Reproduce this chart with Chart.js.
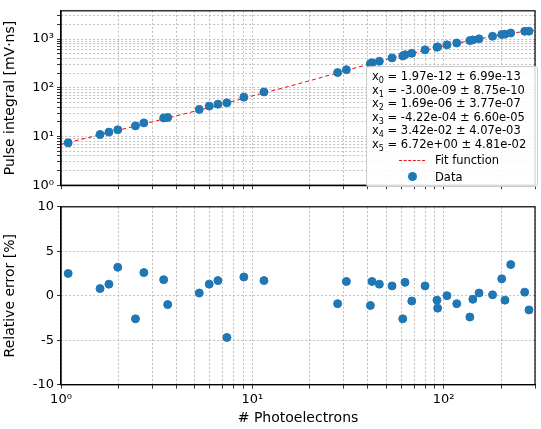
<!DOCTYPE html>
<html>
<head>
<meta charset="utf-8">
<script src="https://cdn.jsdelivr.net/npm/chart.js@4/dist/chart.umd.min.js"></script>
<style>
  body { margin: 0; background: #fff; font-family: "DejaVu Sans", sans-serif; }
  #wrap { position: relative; width: 541px; height: 429px; }
  #top { position: absolute; left: 0; top: 0; }
  #bot { position: absolute; left: 0; top: 196px; }
  .legend { position: absolute; left: 366px; top: 66px; width: 160px; background: rgba(255,255,255,0.85);
    border: 1px solid #ccc; border-radius: 3px; font-size: 11.5px; color: #000; padding: 3px 5px 2px 5px; line-height: 13.5px; }
  .legend sub { font-size: 8px; line-height: 0; }
  .legend .row { display: flex; align-items: center; margin-top: 3px; }
  .legend .sw { width: 26px; margin: 0 10px 0 27px; }
</style>
</head>
<body>
<div id="wrap">
  <canvas id="top" width="541" height="196"></canvas>
  <canvas id="bot" width="541" height="233"></canvas>
  <div class="legend">
    <div>x<sub>0</sub> = 1.97e-12 ± 6.99e-13</div>
    <div>x<sub>1</sub> = -3.00e-09 ± 8.75e-10</div>
    <div>x<sub>2</sub> = 1.69e-06 ± 3.77e-07</div>
    <div>x<sub>3</sub> = -4.22e-04 ± 6.60e-05</div>
    <div>x<sub>4</sub> = 3.42e-02 ± 4.07e-03</div>
    <div>x<sub>5</sub> = 6.72e+00 ± 4.81e-02</div>
    <div class="row"><div class="sw" style="border-top:1.5px dashed #e41a1c"></div>Fit function</div>
    <div class="row"><div class="sw" style="text-align:center"><span style="display:inline-block;width:9px;height:9px;border-radius:50%;background:#1f77b4"></span></div>Data</div>
  </div>
</div>
<script>
// photoelectrons
const photoelectrons = [1.09, 1.60, 1.78, 1.98, 2.45, 2.71, 3.44, 3.61, 5.28, 5.95, 6.61, 7.36, 9.03, 11.5,
  27.9, 31.0, 41.4, 42.2, 46.1, 53.7, 61.1, 62.8, 68.1, 79.9, 92.2, 93.0, 104, 117, 137, 142, 153,
  180, 201, 209, 224, 265, 279];
// pulse integral [mV·ns]
const pulseIntegral = [7.4, 11, 12.3, 13.7, 16.5, 19, 24, 24.5, 36, 42, 46, 49, 64, 82,
  205, 235, 310, 325, 350, 410, 450, 475, 510, 600, 680, 690, 760, 830, 930, 960, 1010,
  1140, 1240, 1260, 1330, 1440, 1450];
// relative error [%]
const relError = [2.5, 0.8, 1.3, 3.2, -2.6, 2.6, 1.8, -1.0, 0.3, 1.3, 1.7, -4.7, 2.1, 1.7,
  -0.9, 1.6, -1.1, 1.6, 1.3, 1.1, -2.6, 1.5, -0.6, 1.1, -0.5, -1.4, 0.0, -0.9, -2.4, -0.4, 0.3,
  0.1, 1.9, -0.5, 3.5, 0.4, -1.6];
// fit curve
const fitX = [1, 2, 3, 5, 7, 10, 15, 20, 30, 50, 70, 100, 150, 200, 250, 300];
const fitY = [6.9, 13.5, 20, 33, 46, 68, 103, 140, 220, 380, 520, 720, 990, 1220, 1390, 1520];

const gridColor = '#b0b0b0';
const font = { family: 'DejaVu Sans', size: 13 };
const sup = { 0: '⁰', 1: '¹', 2: '²', 3: '³' };

function logTicks(min, max) {
  const t = [];
  for (let e = 0; e <= 3; e++)
    for (let m = 1; m < 10; m++) {
      const v = m * Math.pow(10, e);
      if (v >= min && v <= max) t.push({ value: v });
    }
  return t;
}
function logLabel(v) {
  const e = Math.log10(v);
  return Math.abs(e - Math.round(e)) < 1e-9 ? '10' + sup[Math.round(e)] : '';
}
const fixY = s => { s.width = 61; };

// black frame around the plot area
const frame = {
  id: 'frame',
  afterDraw(chart) {
    const { ctx, chartArea: a } = chart;
    ctx.save();
    ctx.strokeStyle = '#000';
    ctx.lineWidth = 1.2;
    ctx.strokeRect(a.left, a.top, a.right - a.left, a.bottom - a.top);
    ctx.restore();
  }
};

const grid = { color: gridColor, lineWidth: 0.8, tickLength: 4, tickColor: '#000' };
const border = { color: '#000', width: 1.2, dash: [2, 2] };

new Chart(document.getElementById('top'), {
  type: 'scatter',
  data: {
    datasets: [
      { data: fitX.map((x, i) => ({ x, y: fitY[i] })), showLine: true, borderColor: '#ff0000',
        borderDash: [4, 3], borderWidth: 1, pointRadius: 0, order: 2 },
      { data: photoelectrons.map((x, i) => ({ x, y: pulseIntegral[i] })), backgroundColor: '#1f77b4',
        borderColor: '#1f77b4', pointRadius: 4, order: 1 }
    ]
  },
  options: {
    responsive: false, animation: false,
    layout: { padding: { top: 6, right: 6, left: 0, bottom: 4 } },
    plugins: { legend: { display: false }, tooltip: { enabled: false } },
    scales: {
      x: { type: 'logarithmic', min: 1, max: 300, afterBuildTicks: s => { s.ticks = logTicks(1, 300); },
        ticks: { display: false }, grid, border },
      y: { type: 'logarithmic', min: 1, max: 3800, afterBuildTicks: s => { s.ticks = logTicks(1, 3800); },
        afterFit: fixY,
        ticks: { callback: logLabel, color: '#000', font, autoSkip: false },
        title: { display: true, text: 'Pulse integral [mV·ns]', color: '#000', font: { family: 'DejaVu Sans', size: 14 }, padding: 2 },
        grid, border }
    }
  },
  plugins: [frame]
});

new Chart(document.getElementById('bot'), {
  type: 'scatter',
  data: {
    datasets: [
      { data: photoelectrons.map((x, i) => ({ x, y: relError[i] })), backgroundColor: '#1f77b4',
        borderColor: '#1f77b4', pointRadius: 4 }
    ]
  },
  options: {
    responsive: false, animation: false,
    layout: { padding: { top: 7, right: 6, left: 0, bottom: 2 } },
    plugins: { legend: { display: false }, tooltip: { enabled: false } },
    scales: {
      x: { type: 'logarithmic', min: 1, max: 300, afterBuildTicks: s => { s.ticks = logTicks(1, 300); },
        ticks: { callback: logLabel, color: '#000', font, autoSkip: false, maxRotation: 0 },
        title: { display: true, text: '# Photoelectrons', color: '#000', font: { family: 'DejaVu Sans', size: 14 }, padding: 0 },
        grid, border },
      y: { min: -10, max: 10, afterFit: fixY,
        ticks: { stepSize: 5, color: '#000', font },
        title: { display: true, text: 'Relative error [%]', color: '#000', font: { family: 'DejaVu Sans', size: 14 }, padding: 2 },
        grid, border }
    }
  },
  plugins: [frame]
});
</script>
</body>
</html>
